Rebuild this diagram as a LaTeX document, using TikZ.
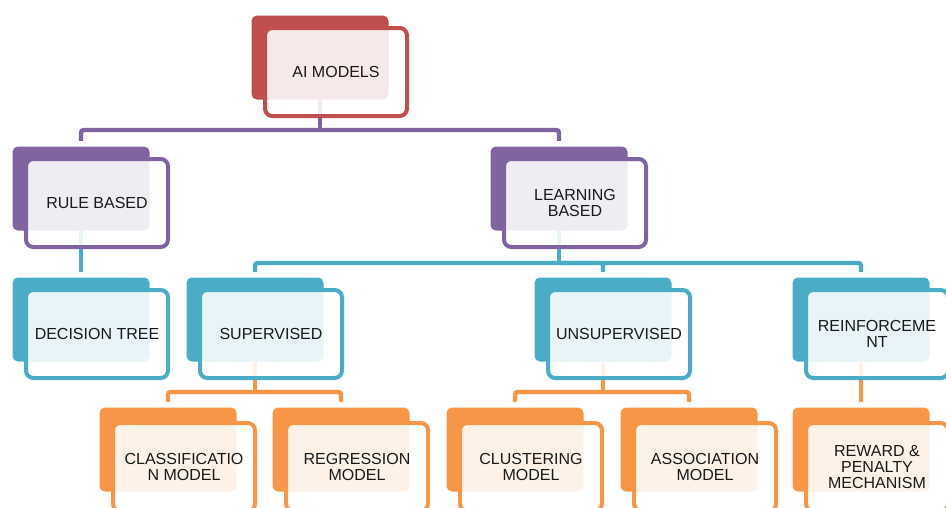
\documentclass[tikz,border=0pt]{standalone}
\usepackage{fontspec}
\setmainfont{Liberation Sans}
\usetikzlibrary{backgrounds}
\definecolor{redA}{HTML}{C0504D}
\definecolor{purpleA}{HTML}{8064A2}
\definecolor{tealA}{HTML}{4BACC6}
\definecolor{orangeA}{HTML}{F79646}
\definecolor{inkA}{HTML}{1A1A1A}

\begin{document}
\begin{tikzpicture}[x=0.75pt,y=-0.75pt,
	tilebk/.style={rectangle,rounded corners=4pt,fill=#1,minimum width=102.75pt,minimum height=63pt,inner sep=0pt},
	tile/.style={rectangle,rounded corners=5.5pt,draw=#1,line width=3pt,fill=white,fill opacity=0.88,text opacity=1,text=inkA,minimum width=106.5pt,minimum height=66pt,inner sep=0pt,align=center,font=\fontsize{12}{11.8}\selectfont},
	link/.style={draw=#1,line width=3.3pt,rounded corners=2pt}]
	\useasboundingbox (0,0) rectangle (946,507);

	\node[tilebk=redA] (aiB) at (320,57.5) {};
	\node[tile=redA] (ai) at (336,72) {AI MODELS};

	\node[tilebk=purpleA] (rbB) at (81,188.5) {};
	\node[tile=purpleA] (rb) at (97,203) {RULE BASED};
	\node[tilebk=purpleA] (lbB) at (559,188.5) {};
	\node[tile=purpleA] (lb) at (575,203) {LEARNING\\BASED};

	\node[tilebk=tealA] (dtB) at (81,319.5) {};
	\node[tile=tealA] (dt) at (97,334) {DECISION TREE};
	\node[tilebk=tealA] (svB) at (255,319.5) {};
	\node[tile=tealA] (sv) at (271,334) {SUPERVISED};
	\node[tilebk=tealA] (unB) at (603,319.5) {};
	\node[tile=tealA] (un) at (619,334) {UNSUPERVISED};
	\node[tilebk=tealA] (reB) at (861,319.5) {};
	\node[tile=tealA] (re) at (877,334) {REINFORCEME\\NT};

	\node[tilebk=orangeA] (clB) at (168,449.5) {};
	\node[tile=orangeA] (cl) at (184,467) {CLASSIFICATIO\\N MODEL};
	\node[tilebk=orangeA] (rgB) at (341,449.5) {};
	\node[tile=orangeA] (rg) at (357,467) {REGRESSION\\MODEL};
	\node[tilebk=orangeA] (csB) at (515,449.5) {};
	\node[tile=orangeA] (cs) at (531,467) {CLUSTERING\\MODEL};
	\node[tilebk=orangeA] (asB) at (689,449.5) {};
	\node[tile=orangeA] (as) at (705,467) {ASSOCIATION\\MODEL};
	\node[tilebk=orangeA] (rwB) at (861,449.5) {};
	\node[tile=orangeA] (rw) at (877,467) {REWARD \&\\PENALTY\\MECHANISM};

	% connectors sit behind the tiles
	\begin{pgfonlayer}{background}
		\coordinate (aiJ) at (320,130);
		\coordinate (lbJ) at (559,263);
		\coordinate (svJ) at (255,392);
		\coordinate (unJ) at (603,392);

		\draw[link=purpleA] (aiB.south) -- (aiJ);
		\draw[link=purpleA,shorten <=4pt,shorten >=4pt] (rbB.north) |- (aiJ) -| (lbB.north);

		\draw[link=tealA,shorten >=4pt] (rbB.south) -- (dtB.north);
		\draw[link=tealA] (lbB.south) -- (lbJ);
		\draw[link=tealA,shorten <=4pt,shorten >=4pt] (svB.north) |- (lbJ) -| (reB.north);
		\draw[link=tealA,shorten >=4pt] (lbJ) -| (unB.north);

		\draw[link=orangeA] (svB.south) -- (svJ);
		\draw[link=orangeA,shorten <=4pt,shorten >=4pt] (clB.north) |- (svJ) -| (rgB.north);
		\draw[link=orangeA] (unB.south) -- (unJ);
		\draw[link=orangeA,shorten <=4pt,shorten >=4pt] (csB.north) |- (unJ) -| (asB.north);
		\draw[link=orangeA,shorten >=4pt] (reB.south) -- (rwB.north);
	\end{pgfonlayer}
\end{tikzpicture}
\end{document}
